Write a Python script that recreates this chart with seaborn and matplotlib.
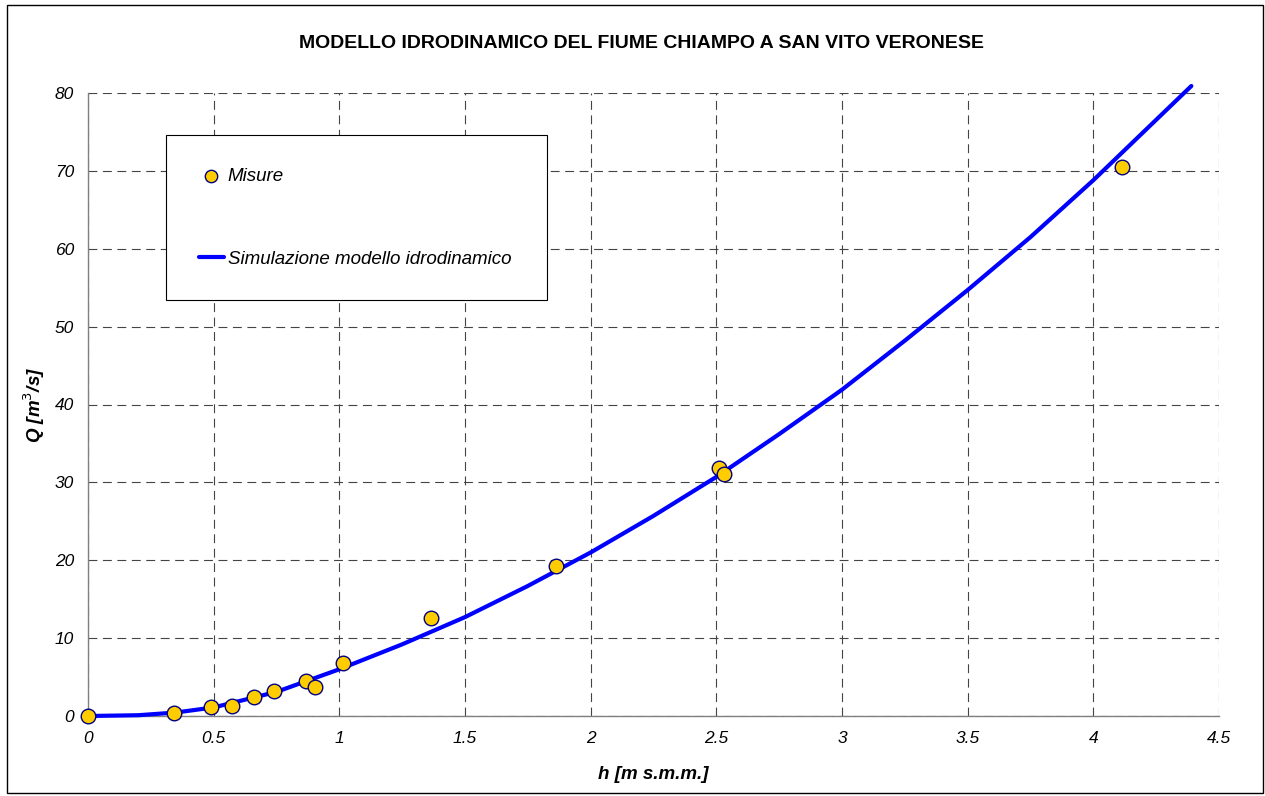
import pandas as pd
import seaborn as sns
import matplotlib.pyplot as plt
from matplotlib.patches import Rectangle

# measured points (h, Q)
h_misure = [0.0, 0.343, 0.488, 0.573, 0.659, 0.741, 0.869, 0.905, 1.013, 1.365, 1.862, 2.511, 2.531, 4.115]
q_misure = [0.0, 0.4, 1.2, 1.3, 2.4, 3.2, 4.5, 3.7, 6.8, 12.6, 19.3, 31.8, 31.1, 70.5]

# simulated rating curve
h_sim = [0.0, 0.2, 0.35, 0.5, 0.75, 1.0, 1.25, 1.5, 1.75, 2.0, 2.25, 2.5, 2.75, 3.0, 3.25, 3.5, 3.75, 4.0, 4.39]
q_sim = [0.0, 0.1, 0.45, 1.1, 3.1, 6.0, 9.2, 12.7, 16.7, 21.0, 25.7, 30.7, 36.2, 41.9, 48.2, 54.7, 61.5, 68.8, 80.9]

x_ticks = [0, 0.5, 1, 1.5, 2, 2.5, 3, 3.5, 4, 4.5]
x_labels = ["0", "0.5", "1", "1.5", "2", "2.5", "3", "3.5", "4", "4.5"]
y_ticks = [0, 10, 20, 30, 40, 50, 60, 70, 80]

df_mis = pd.DataFrame({"h": h_misure, "Q": q_misure})
df_sim = pd.DataFrame({"h": h_sim, "Q": q_sim})

sns.set_style("white")
plt.rcParams["font.family"] = ["Liberation Sans", "DejaVu Sans"]
plt.rcParams["text.color"] = "black"
plt.rcParams["axes.labelcolor"] = "black"

W, H = 1265, 796
fig = plt.figure(figsize=(W / 100, H / 100), dpi=100)
ax = fig.add_axes([88 / W, 1 - 716 / H, (1219 - 88) / W, (716 - 93) / H])

sns.lineplot(data=df_sim, x="h", y="Q", ax=ax, color="#0000FF", linewidth=3,
             label="Simulazione modello idrodinamico", zorder=3)
ax.lines[-1].set_clip_on(False)
sns.scatterplot(data=df_mis, x="h", y="Q", ax=ax, s=110, color="#FFCC00",
                edgecolor="#000080", linewidth=1, label="Misure", zorder=4,
                clip_on=False)

ax.set_xlim(0, 4.5)
ax.set_ylim(0, 80)
ax.set_xticks(x_ticks)
ax.set_xticklabels(x_labels)
ax.set_yticks(y_ticks)
ax.grid(True, color="#444444", linestyle=(0, (8, 5)), linewidth=0.8)
ax.set_axisbelow(True)
for s in ["top", "right"]:
    ax.spines[s].set_visible(False)
for s in ["left", "bottom"]:
    ax.spines[s].set_color("#808080")
    ax.spines[s].set_linewidth(1)
ax.tick_params(axis="both", direction="inout", length=8, width=1, color="#808080",
               labelsize=12.5, labelcolor="black")
ax.tick_params(axis="y", pad=6)
ax.tick_params(axis="x", pad=7)
for lbl in ax.get_xticklabels() + ax.get_yticklabels():
    lbl.set_fontstyle("italic")

ax.set_xlabel("h [m s.m.m.]", fontsize=13.5, fontweight="bold", fontstyle="italic", labelpad=14)
ax.set_ylabel("Q [m$^3$/s]", fontsize=13.5, fontweight="bold", fontstyle="italic", labelpad=6)

fig.text(0.507, 1 - 44 / H, "MODELLO IDRODINAMICO DEL FIUME CHIAMPO A SAN VITO VERONESE",
         ha="center", va="center", fontsize=14, fontweight="bold")

handles, labels = ax.get_legend_handles_labels()
order = [labels.index("Misure"), labels.index("Simulazione modello idrodinamico")]
leg = ax.legend([handles[i] for i in order], [labels[i] for i in order],
                loc="upper left", bbox_to_anchor=(0.069, 0.5, 0.337, 0.4326),
                mode="expand", borderaxespad=0, fancybox=False, framealpha=1,
                edgecolor="black", prop={"size": 13.5, "style": "italic"},
                labelspacing=3.5, borderpad=1.75, handlelength=1.33,
                handletextpad=0.2, markerscale=0.85)
leg.get_frame().set_linewidth(0.8)

# outer frame of the chart
fig.patches.append(Rectangle((7 / W, 3 / H), 1 - 9 / W, 1 - 8 / H, transform=fig.transFigure,
                             fill=False, edgecolor="black", linewidth=1))

fig.savefig("out.png", dpi=100)
